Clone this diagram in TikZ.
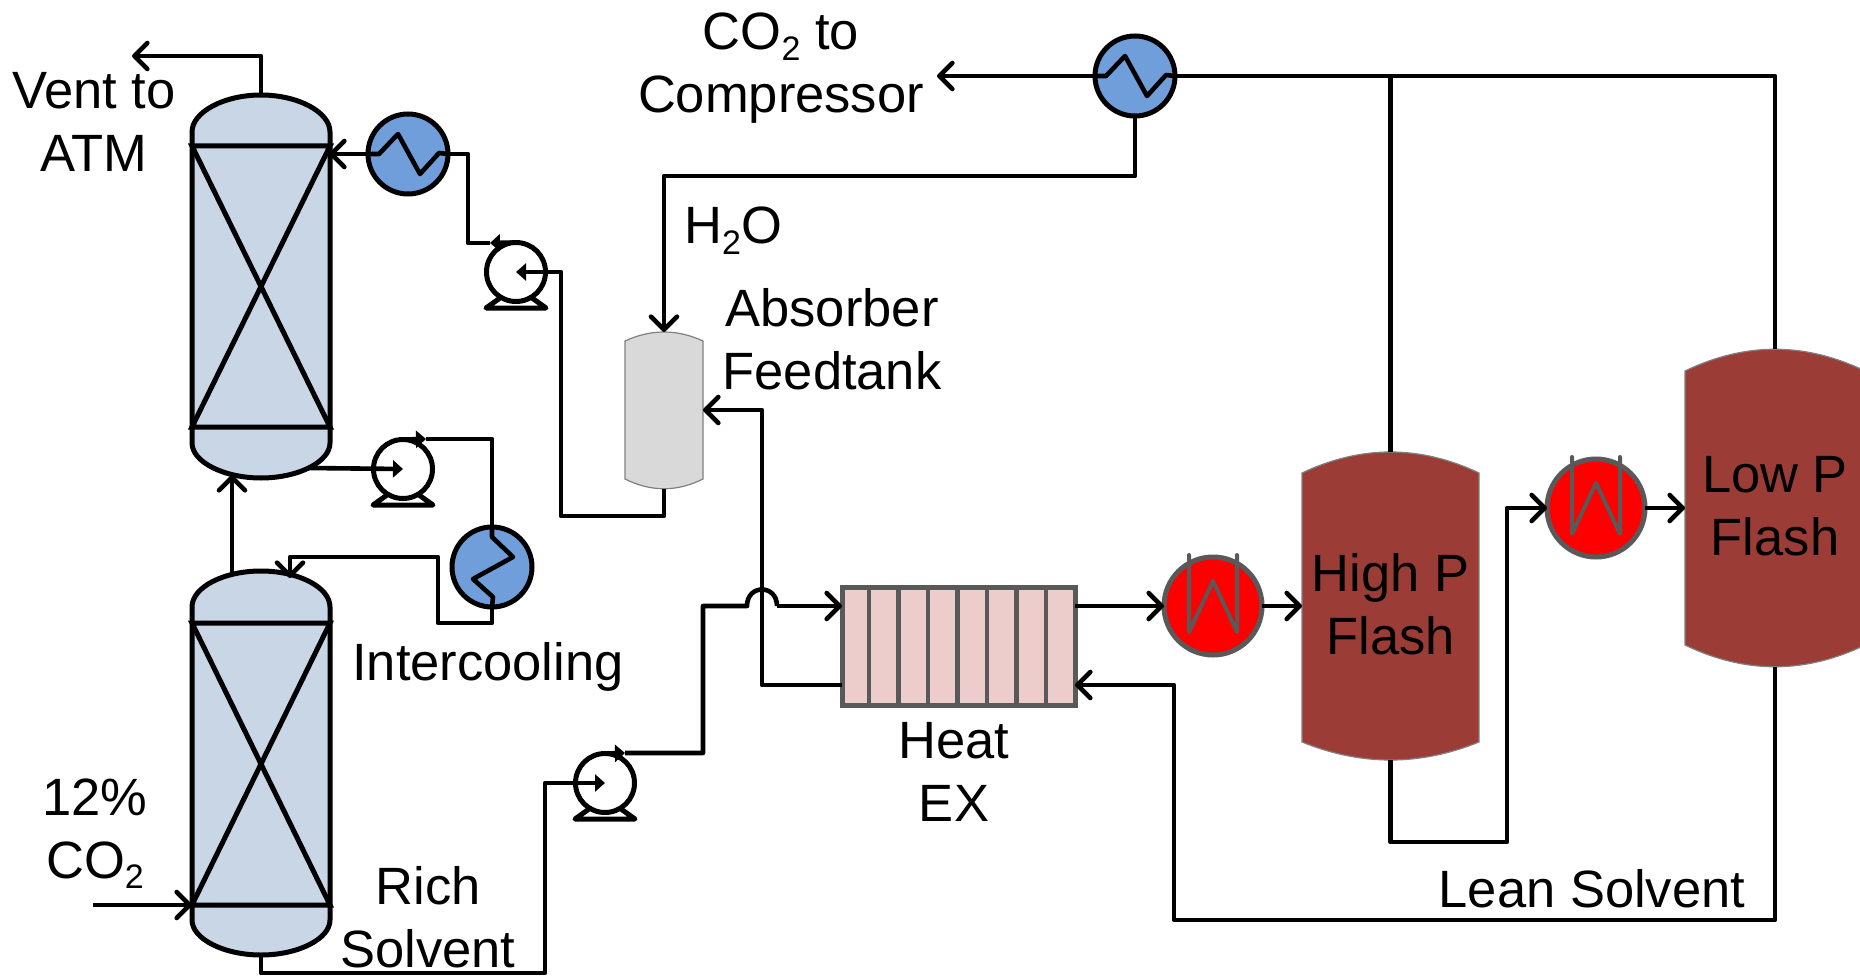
\documentclass[tikz,border=0pt]{standalone}
\usepackage{fontspec}
\setmainfont{Liberation Sans}
\usetikzlibrary{arrows.meta}
\definecolor{columnblue}{HTML}{C8D6E6}
\definecolor{coolerblue}{HTML}{6F9EDB}
\definecolor{flashbrown}{HTML}{9C3C36}
\definecolor{hxpink}{HTML}{ECCDCB}
\definecolor{unitgray}{HTML}{595959}
\newcommand{\subtwo}{\raisebox{-0.2em}{\fontsize{34}{34}\selectfont 2}}
\tikzset{
	pipe/.style={line width=4.6pt, line join=round},
	barb/.style={pipe, -{Straight Barb[length=13pt, width=26pt, round]}},
	wedge/.style={pipe, -{Triangle[length=10pt, width=17pt]}},
	column/.style={line width=5pt, fill=columnblue},
	drum/.style={draw=gray, line width=1.2pt, fill=#1},
	shell/.style={rectangle, inner sep=0pt, outer sep=0pt, minimum width=#1},
	cooler/.style={circle, draw, line width=5pt, fill=coolerblue, minimum size=80pt, inner sep=0pt, outer sep=0pt},
	heater/.style={circle, draw=unitgray, line width=5pt, fill=red, minimum size=98pt, inner sep=0pt, outer sep=0pt},
	pump/.style={circle, draw, line width=5pt, fill=white, minimum size=59pt, inner sep=0pt, outer sep=0pt},
	label/.style={font=\fontsize{52.5}{63}\selectfont, anchor=base, inner sep=0pt, align=center},
}
\begin{document}
\begin{tikzpicture}[x=1pt, y=-1pt]
	\path[use as bounding box, clip] (0,0) rectangle (1860,976);

	\draw[column] (192,132) .. controls (192,112) and (224,95) .. (261,95) .. controls (298,95) and (330,112) .. (330,132) -- (330,443) .. controls (330,462) and (298,478) .. (261,478) .. controls (224,478) and (192,462) .. (192,443) -- cycle;
	\draw[line width=5pt] (192,146) -- (330,146) -- (192,427) -- (330,427) -- cycle;
	\node[shell=138pt, minimum height=383pt] (topcol) at (261,286.5) {};

	\draw[column] (192,607) .. controls (192,587) and (224,571) .. (261,571) .. controls (298,571) and (330,587) .. (330,607) -- (330,920) .. controls (330,939) and (298,955) .. (261,955) .. controls (224,955) and (192,939) .. (192,920) -- cycle;
	\draw[line width=5pt] (192,623) -- (330,623) -- (192,905) -- (330,905) -- cycle;
	\node[shell=138pt, minimum height=384pt] (botcol) at (261,763) {};

	\draw[drum=black!15] (625,341) .. controls (651,329) and (677,329) .. (703,341) -- (703,479) .. controls (677,492) and (651,492) .. (625,479) -- cycle;
	\node[shell=78pt, minimum height=157pt] (tank) at (664,410.5) {};

	\draw[drum=flashbrown] (1302,473) .. controls (1361,445) and (1420,445) .. (1479,473) -- (1479,742) .. controls (1420,766) and (1361,766) .. (1302,742) -- cycle;
	\node[shell=177pt, minimum height=308pt, label, anchor=center] (highflash) at (1390.5,606) {High P\\Flash\rule[-4pt]{0pt}{4pt}};

	\draw[drum=flashbrown] (1685,371) .. controls (1745,342) and (1805,342) .. (1865,371) -- (1865,645) .. controls (1805,674) and (1745,674) .. (1685,645) -- cycle;
	\node[shell=180pt, minimum height=318pt, label, anchor=center] (lowflash) at (1775,508) {Low P\\Flash\rule[-4pt]{0pt}{4pt}};

	\node[rectangle, draw=unitgray, line width=5pt, fill=hxpink, minimum width=233pt, minimum height=118pt, inner sep=0pt, outer sep=0pt] (hx) at (958.5,646) {};
	\foreach \i in {1,...,7}
		\draw[unitgray, line width=4.5pt] ([xshift=\i*29.5pt-2.5pt]hx.north west) -- ([xshift=\i*29.5pt-2.5pt]hx.south west);

	\node[cooler] (cond) at (408,154) {};
	\node[cooler] (intercool) at (492,567) {};
	\node[cooler] (waterout) at (1135,76) {};
	\node[heater] (heat1) at (1213,606) {};
	\node[heater] (heat2) at (1596,508) {};
	\node[pump] (pump1) at (516,272) {};
	\node[pump] (pump2) at (403,469) {};
	\node[pump] (pump3) at (605,783) {};

	\foreach \p in {pump1,pump2,pump3}
		\draw[line width=5pt, line join=round] ([shift={(-16,26)}]\p.center) -- ++(-14,10) -- ++(60,0) -- ++(-14,-10);
	\foreach \c in {cond,waterout}
		\draw[pipe] (\c.west) -- ++(11,0) -- ++(19,-20) -- ++(22,40) -- ++(19,-21) -- (\c.east);
	\draw[pipe] (intercool.north) -- ++(0,10) -- ++(21,20) -- ++(-40,22) -- ++(20,18) -- (intercool.south);
	\foreach \h in {heat1,heat2}
		\draw[unitgray, line width=4pt, line cap=round, line join=round] ([shift={(-24,-51)}]\h.center) -- ++(0,77) -- ++(24,-51) -- ++(24,51) -- ++(0,-77);

	\coordinate (vent) at (132,56);
	\coordinate (condin) at (329,154);
	\coordinate (pump1out) at (490,243);
	\coordinate (bend1) at (468,243);
	\coordinate (bend2) at (561,516);
	\coordinate (pump2in) at (308,468);
	\coordinate (pump2out) at (426,439);
	\coordinate (bend3) at (438,623);
	\coordinate (bend4) at (290,557);
	\coordinate (botin) at (290,578);
	\coordinate (riserlow) at (232,574);
	\coordinate (riserhigh) at (232,475);
	\coordinate (gasfeed) at (93,905);
	\coordinate (gasin) at (192,905);
	\coordinate (bend5) at (545,973);
	\coordinate (pump3out) at (625,753);
	\coordinate (bend6) at (703,606);
	\coordinate (humpa) at (747,606);
	\coordinate (humpb) at (777,606);
	\coordinate (bend7) at (762,685);
	\coordinate (tankin) at (703,410);
	\coordinate (hxret) at (1075,685);
	\coordinate (bend8) at (1507,842);
	\coordinate (bend9) at (1174,920);
	\coordinate (bend10) at (664,176);
	\coordinate (compressor) at (937,76);

	\draw[barb] (topcol.north) |- (vent);
	\draw[barb] (cond.west) -- (condin);
	\draw[wedge] (pump1.north) -- (pump1out);
	\draw[pipe] (pump1out) -- (bend1) |- (cond.east);
	\draw[wedge] (tank.south) |- (bend2) |- (pump1.center);
	\draw[wedge] (pump2in) -- (pump2.center);
	\draw[wedge] (pump2.north) -- (pump2out);
	\draw[pipe] (pump2out) -| (intercool.north);
	\draw[barb] (intercool.south) |- (bend3) |- (bend4) -- (botin);
	\draw[barb] (riserlow) -- (riserhigh);
	\draw[barb] (gasfeed) -- (gasin);
	\draw[wedge] (botcol.south) |- (bend5) |- (pump3.center);
	\draw[wedge] (pump3.north) -- (pump3out);
	\draw[pipe] (pump3out) -| (bend6) -- (humpa) .. controls (747,584) and (777,584) .. (humpb);
	\draw[barb] (humpb) -- (hx.west |- humpb);
	\draw[barb] (hx.east |- humpb) -- (heat1.west);
	\draw[barb] (heat1.east) -- (highflash.west);
	\draw[barb] (highflash.south) |- (bend8) |- (heat2.west);
	\draw[barb] (heat2.east) -- (lowflash.west);
	\draw[barb] (lowflash.south) |- (bend9) |- (hxret);
	\draw[barb] (hx.west |- hxret) -- (bend7) |- (tankin);
	\draw[pipe] (waterout.east) -| (lowflash.north);
	\draw[pipe] (highflash.north) -- (highflash.north |- waterout);
	\draw[barb] (waterout.west) -- (compressor);
	\draw[barb] (waterout.south) |- (bend10) -- (tank.north);

	\node[label] (ventlabel) at (94,172) {Vent to\\ATM};
	\node[label] (co2label) at (781,113) {CO\subtwo{} to\\Compressor};
	\node[label] (waterlabel) at (733,244) {H\subtwo{}O};
	\node[label] (feedlabel) at (832,389) {Absorber\\Feedtank};
	\node[label] (coollabel) at (488,680) {Intercooling};
	\node[label] (gaslabel) at (95,878) {12\%\\CO\subtwo{}};
	\node[label] (richlabel) at (428,967) {Rich\\Solvent};
	\node[label] (hxlabel) at (954,821) {Heat\\EX};
	\node[label] (leanlabel) at (1592,907) {Lean Solvent};
\end{tikzpicture}
\end{document}
